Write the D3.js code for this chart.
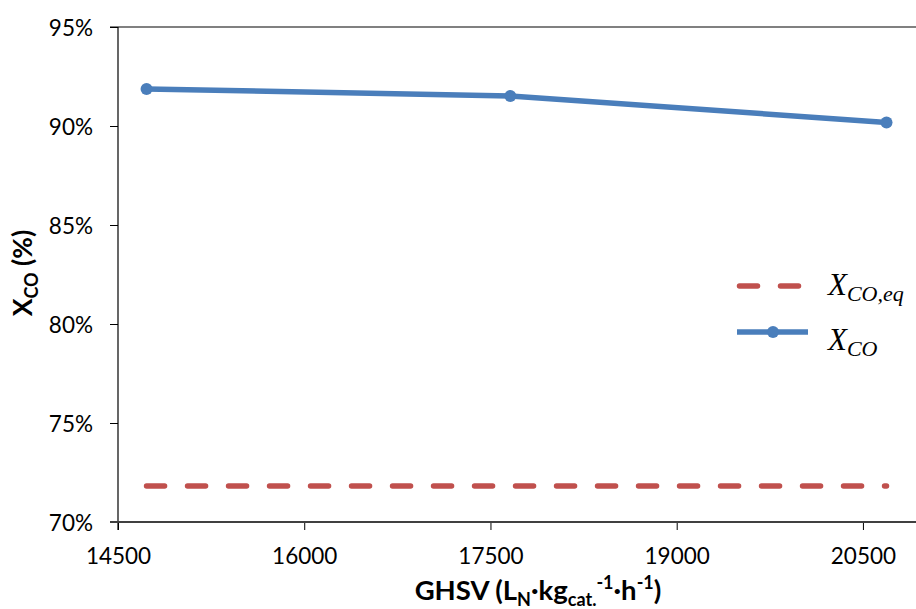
<!DOCTYPE html>
<html>
<head>
<meta charset="utf-8">
<script src="https://cdn.jsdelivr.net/npm/d3@7"></script>
<style>
  body { margin: 0; background: #fff; }
  svg { display: block; }
  .tick-label { font-family: Lato, "Open Sans", sans-serif; font-size: 22.5px; fill: #000; }
  .axis-title { font-family: Lato, "Open Sans", sans-serif; font-size: 27.5px; font-weight: bold; fill: #000; }
  .legend-label { font-family: "Liberation Serif", "DejaVu Serif", serif; font-style: italic; fill: #000; }
</style>
</head>
<body>
<div id="chart"></div>
<script>
// Datos
const ghsv = [14730, 17660, 20690];
const xco = [91.87, 91.52, 90.18];
const xcoEq = [71.82, 71.82, 71.82];
const xTicks = [14500, 16000, 17500, 19000, 20500];
const yTicks = [70, 75, 80, 85, 90, 95];

const W = 916, H = 609;
const BLUE = "#4a7ebb";
const RED = "#c0504d";

const svg = d3.select("#chart").append("svg")
  .attr("width", W).attr("height", H);

const x = d3.scaleLinear().domain([14500, 21000]).range([118, 925]);
const y = d3.scaleLinear().domain([70, 95]).range([522, 27]);

// Marco superior gris
svg.append("line")
  .attr("x1", 110).attr("x2", W)
  .attr("y1", y(95)).attr("y2", y(95))
  .attr("stroke", "#808080").attr("stroke-width", 2);

// Eje Y
const yAxis = d3.axisLeft(y).tickValues(yTicks).tickSize(8).tickFormat(d => d + "%");
const gy = svg.append("g").attr("transform", "translate(118,0)").call(yAxis);
gy.select(".domain").remove();
gy.selectAll(".tick line").attr("stroke", "#000");
gy.selectAll(".tick text").attr("class", "tick-label").attr("x", -25).attr("dy", "0.36em");
svg.append("line")
  .attr("x1", 118).attr("x2", 118).attr("y1", y(95)).attr("y2", 530)
  .attr("stroke", "#000").attr("stroke-width", 1.2);

// Eje X
const xAxis = d3.axisBottom(x).tickValues(xTicks).tickSize(8).tickFormat(d3.format("d"));
const gx = svg.append("g").attr("transform", `translate(0,${y(70)})`).call(xAxis);
gx.select(".domain").remove();
gx.selectAll(".tick line").attr("stroke", "#000");
gx.selectAll(".tick text").attr("class", "tick-label").attr("y", 26).attr("dy", "0.71em");
svg.append("line")
  .attr("x1", 110).attr("x2", W).attr("y1", y(70)).attr("y2", y(70))
  .attr("stroke", "#404040").attr("stroke-width", 2);

// Serie de equilibrio (discontinua)
const eqLine = d3.line().x((d, i) => x(ghsv[i])).y(d => y(d));
svg.append("path")
  .datum(xcoEq)
  .attr("d", eqLine)
  .attr("fill", "none")
  .attr("stroke", RED).attr("stroke-width", 5.5)
  .attr("stroke-linecap", "round")
  .attr("stroke-dasharray", "18,23");

// Serie X_CO
const coLine = d3.line().x((d, i) => x(ghsv[i])).y(d => y(d));
svg.append("path")
  .datum(xco)
  .attr("d", coLine)
  .attr("fill", "none")
  .attr("stroke", BLUE).attr("stroke-width", 5.5)
  .attr("stroke-linejoin", "round");
svg.selectAll("circle.pt")
  .data(xco)
  .join("circle")
  .attr("class", "pt")
  .attr("cx", (d, i) => x(ghsv[i]))
  .attr("cy", d => y(d))
  .attr("r", 6)
  .attr("fill", BLUE);

// Títulos de ejes
const xt = svg.append("text").attr("class", "axis-title")
  .attr("x", 538).attr("y", 600).attr("text-anchor", "middle");
xt.append("tspan").text("GHSV (L");
xt.append("tspan").attr("font-size", 18).attr("dy", 6).text("N");
xt.append("tspan").attr("dy", -6).text("·kg");
xt.append("tspan").attr("font-size", 18).attr("dy", 6).text("cat.");
xt.append("tspan").attr("font-size", 18).attr("dy", -17).text("-1");
xt.append("tspan").attr("dy", 11).text("·h");
xt.append("tspan").attr("font-size", 18).attr("dy", -11).text("-1");
xt.append("tspan").attr("dy", 11).text(")");

const yt = svg.append("text").attr("class", "axis-title")
  .attr("transform", "translate(32,273) rotate(-90)")
  .attr("text-anchor", "middle")
  .style("font-size", "26.5px");
yt.append("tspan").text("X");
yt.append("tspan").attr("font-size", 18).attr("dy", 6).text("CO");
yt.append("tspan").attr("dy", -6).text(" (%)");

// Leyenda
const lg = svg.append("g");
lg.append("line")
  .attr("x1", 739.5).attr("x2", 799)
  .attr("y1", 286).attr("y2", 286)
  .attr("stroke", RED).attr("stroke-width", 5.5)
  .attr("stroke-linecap", "round")
  .attr("stroke-dasharray", "18,23");
const l1 = lg.append("text").attr("class", "legend-label")
  .attr("x", 828).attr("y", 295).attr("font-size", 31);
l1.append("tspan").text("X");
l1.append("tspan").attr("font-size", 22).attr("dy", 6).text("CO,eq");

lg.append("line")
  .attr("x1", 737).attr("x2", 808)
  .attr("y1", 332).attr("y2", 332)
  .attr("stroke", BLUE).attr("stroke-width", 5.5);
lg.append("circle").attr("cx", 773).attr("cy", 332).attr("r", 6).attr("fill", BLUE);
const l2 = lg.append("text").attr("class", "legend-label")
  .attr("x", 828).attr("y", 350).attr("font-size", 31);
l2.append("tspan").text("X");
l2.append("tspan").attr("font-size", 22).attr("dy", 6).text("CO");
</script>
</body>
</html>
